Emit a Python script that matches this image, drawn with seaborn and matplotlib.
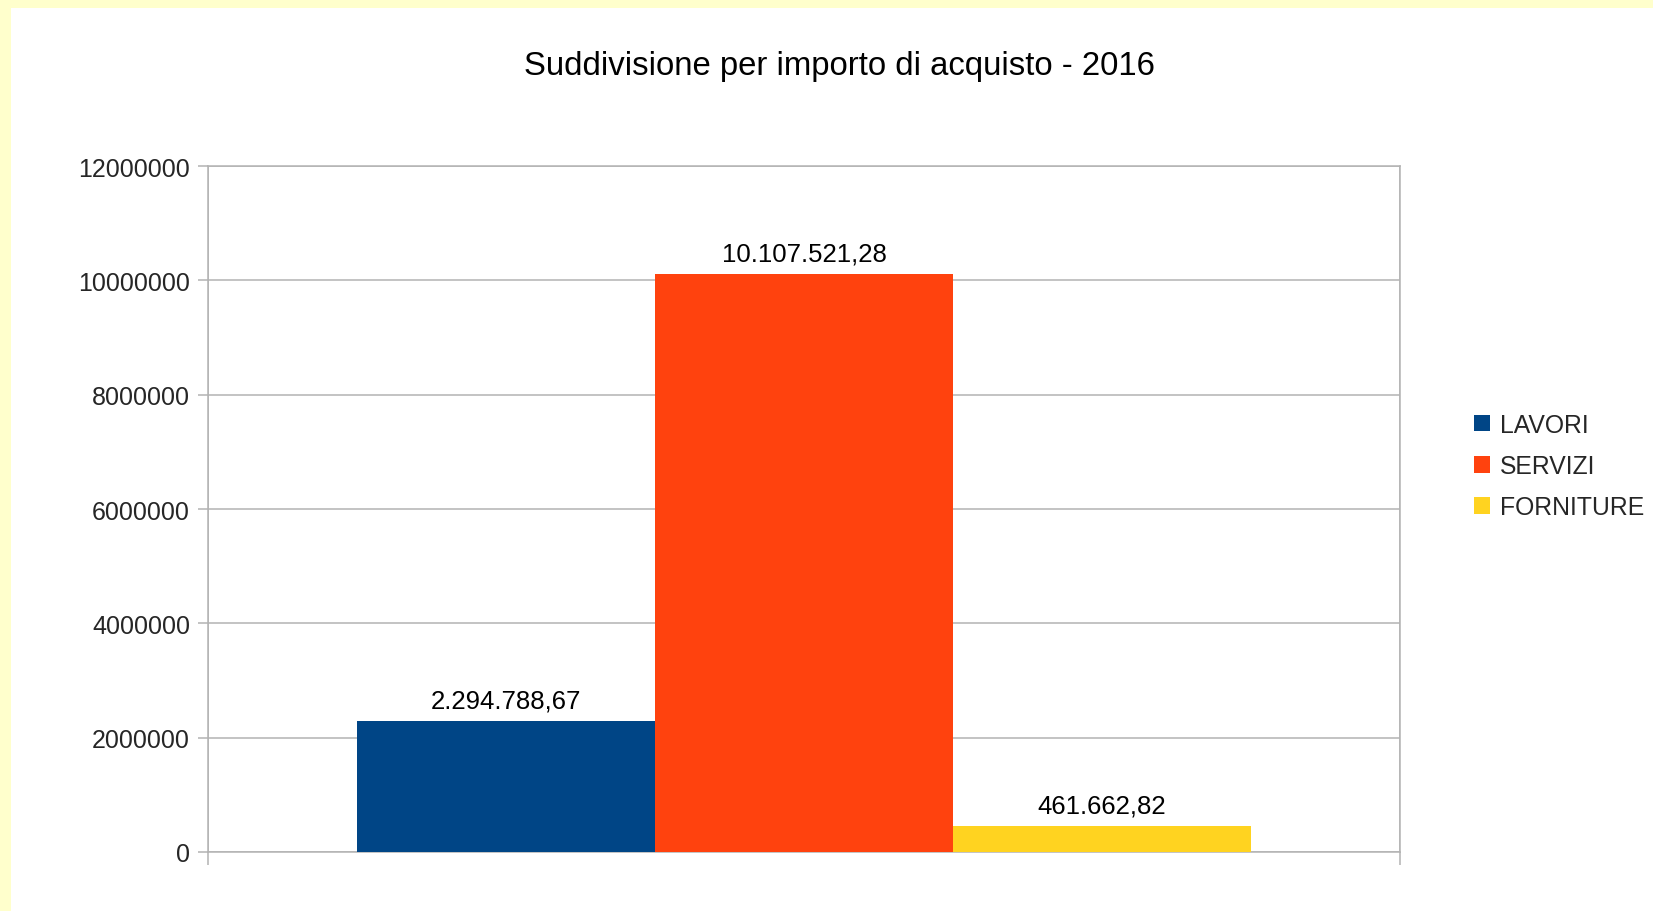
import numpy as np
import pandas as pd
import seaborn as sns
import matplotlib.pyplot as plt
from matplotlib.patches import Rectangle

# Data
year = "2016"
tipologie = ["LAVORI", "SERVIZI", "FORNITURE"]
importi = [2294788.67, 10107521.28, 461662.82]
etichette = ["2.294.788,67", "10.107.521,28", "461.662,82"]
colori = ["#004586", "#ff420e", "#ffd320"]
y_ticks = [0, 2000000, 4000000, 6000000, 8000000, 10000000, 12000000]

df = pd.DataFrame({"anno": [year] * 3, "tipo": tipologie, "importo": importi})

sns.set_style("white")
plt.rcParams['font.family'] = ['Liberation Sans', 'DejaVu Sans']

fig = plt.figure(figsize=(16.53, 9.12), dpi=100)
fig.patch.set_facecolor("#ffffcc")
fig.patches.append(Rectangle((11 / 1653, 0), 1, 1 - 9 / 912, transform=fig.transFigure,
                             facecolor="white", edgecolor="none", zorder=-1))

ax = fig.add_axes([208 / 1653, 1 - 853 / 912, (1400 - 208) / 1653, (853 - 167) / 912])
ax.set_facecolor("white")

sns.barplot(data=df, x="anno", y="importo", hue="tipo", hue_order=tipologie,
            palette=colori, width=0.75, linewidth=0, saturation=1, ax=ax, zorder=3)

# Data labels
for cont, lab in zip(ax.containers, etichette):
    ax.bar_label(cont, labels=[lab], padding=6, fontsize=18.5, color="#000000")

grid_col = "#b3b3b3"
ax.set_ylim(0, 12000000)
ax.set_xlim(-0.5, 0.5)
ax.set_yticks(y_ticks)
ax.set_yticklabels([str(v) for v in y_ticks], fontsize=18)
ax.set_xticks([-0.5, 0.5])
ax.set_xticklabels([])
ax.grid(True, axis="both", color=grid_col, linewidth=1.1, zorder=0)
ax.set_axisbelow(True)
ax.tick_params(axis="y", left=True, length=7, width=1.1, color=grid_col, pad=6)
ax.tick_params(axis="x", bottom=True, length=9, width=1.1, color=grid_col)
for s in ax.spines.values():
    s.set_color(grid_col)
    s.set_linewidth(1.1)
ax.set_xlabel("")
ax.set_ylabel("")

# Legend
handles, labels = ax.get_legend_handles_labels()
ax.get_legend().remove()
fig.legend(handles, labels, loc="center left", bbox_to_anchor=(1474 / 1653, 1 - 467 / 912),
           frameon=False, fontsize=17.8, handlelength=0.66, handleheight=0.66,
           handletextpad=0.4, labelspacing=0.7, borderpad=0, borderaxespad=0)

fig.text(840 / 1653, 1 - 66 / 912, "Suddivisione per importo di acquisto - 2016",
         ha="center", va="center", fontsize=23.7, color="#000000")

plt.savefig("out.png", dpi=100, facecolor=fig.get_facecolor())
